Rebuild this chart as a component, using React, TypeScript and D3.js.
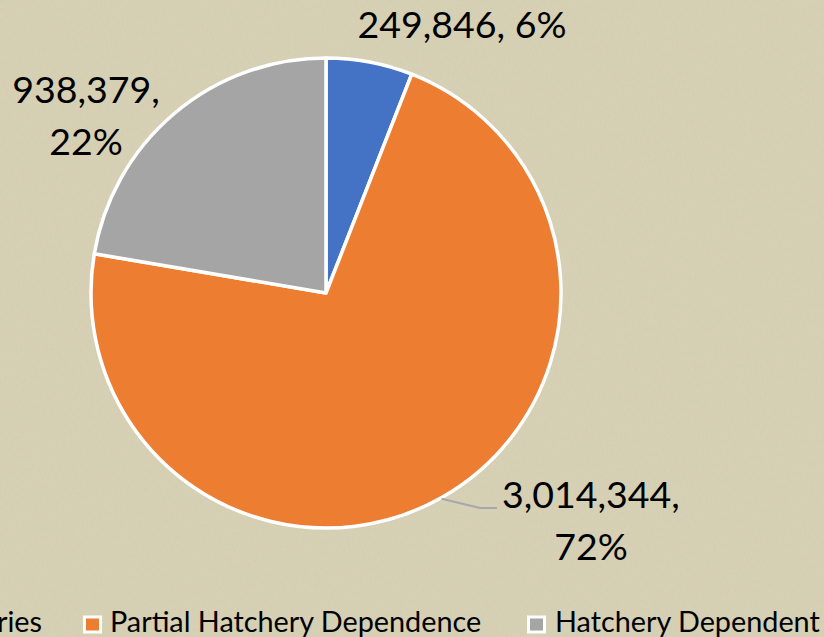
import React from "react";
import * as d3 from "d3";

const categories = ["Wild Fisheries", "Partial Hatchery Dependence", "Hatchery Dependent"];
const values = [249846, 3014344, 938379];
const colors = ["#4472C4", "#ED7D31", "#A5A5A5"];
const percentLabels = ["6%", "72%", "22%"];

const W = 824;
const H = 637;
const cx = 326;
const cy = 293;
const R = 235;
const FONT = "Lato, 'Open Sans', sans-serif";

export default function App() {
  const pie = d3.pie<number>().sort(null).value((d) => d)(values);
  const arc = d3.arc<d3.PieArcDatum<number>>().innerRadius(0).outerRadius(R);
  const fmt = d3.format(",");

  const labelPos = [
    { x: 462 - cx, y: 38 - cy, lines: [`${fmt(values[0])}, ${percentLabels[0]}`] },
    { x: 591 - cx, y: 508 - cy, lines: [`${fmt(values[1])},`, percentLabels[1]] },
    { x: 86 - cx, y: 103 - cy, lines: [`${fmt(values[2])},`, percentLabels[2]] },
  ];

  const edge = d3.pointRadial(2.63, R + 1);

  return (
    <svg width={W} height={H} style={{ position: "absolute", left: 0, top: 0, display: "block" }}>
      <defs>
        <filter id="tex" x="0" y="0" width={W} height={H} filterUnits="userSpaceOnUse">
          <feTurbulence type="fractalNoise" baseFrequency="0.7 0.25" numOctaves="2" seed="5" />
          <feColorMatrix
            type="matrix"
            values="0 0 0 0 0.62  0 0 0 0 0.6  0 0 0 0 0.42  1.6 0 0 0 -0.6"
          />
        </filter>
      </defs>
      <rect x={0} y={0} width={W} height={H} fill="#d7d0b5" />
      <rect x={0} y={0} width={W} height={H} fill="#fff" filter="url(#tex)" opacity={0.6} />
      <g transform={`translate(${cx},${cy})`}>
        {pie.map((p, i) => (
          <path key={i} d={arc(p) || ""} fill={colors[i]} stroke="#ffffff" strokeWidth={3.5} strokeLinejoin="round" />
        ))}
        <polyline
          points={`${edge[0]},${edge[1]} ${480 - cx},${508 - cy} ${497 - cx},${508 - cy}`}
          fill="none"
          stroke="#a6a8ab"
          strokeWidth={2}
        />
        {labelPos.map((l, i) => (
          <text key={i} fontFamily={FONT} fontSize={37.5} fill="#000" textAnchor="middle">
            {l.lines.map((t, j) => (
              <tspan key={j} x={l.x} y={l.y + j * 52}>
                {t}
              </tspan>
            ))}
          </text>
        ))}
      </g>
      <g fontFamily={FONT} fontSize={28.8} fill="#000">
        <text x={42} y={632} textAnchor="end">{categories[0]}</text>
        <rect x={84.5} y={617} width={16} height={15} fill={colors[1]} stroke="#fff" strokeWidth={3} />
        <text x={110} y={632}>{categories[1]}</text>
        <rect x={528.5} y={617} width={16} height={15} fill={colors[2]} stroke="#fff" strokeWidth={3} />
        <text x={555} y={632}>{categories[2]}</text>
      </g>
    </svg>
  );
}
